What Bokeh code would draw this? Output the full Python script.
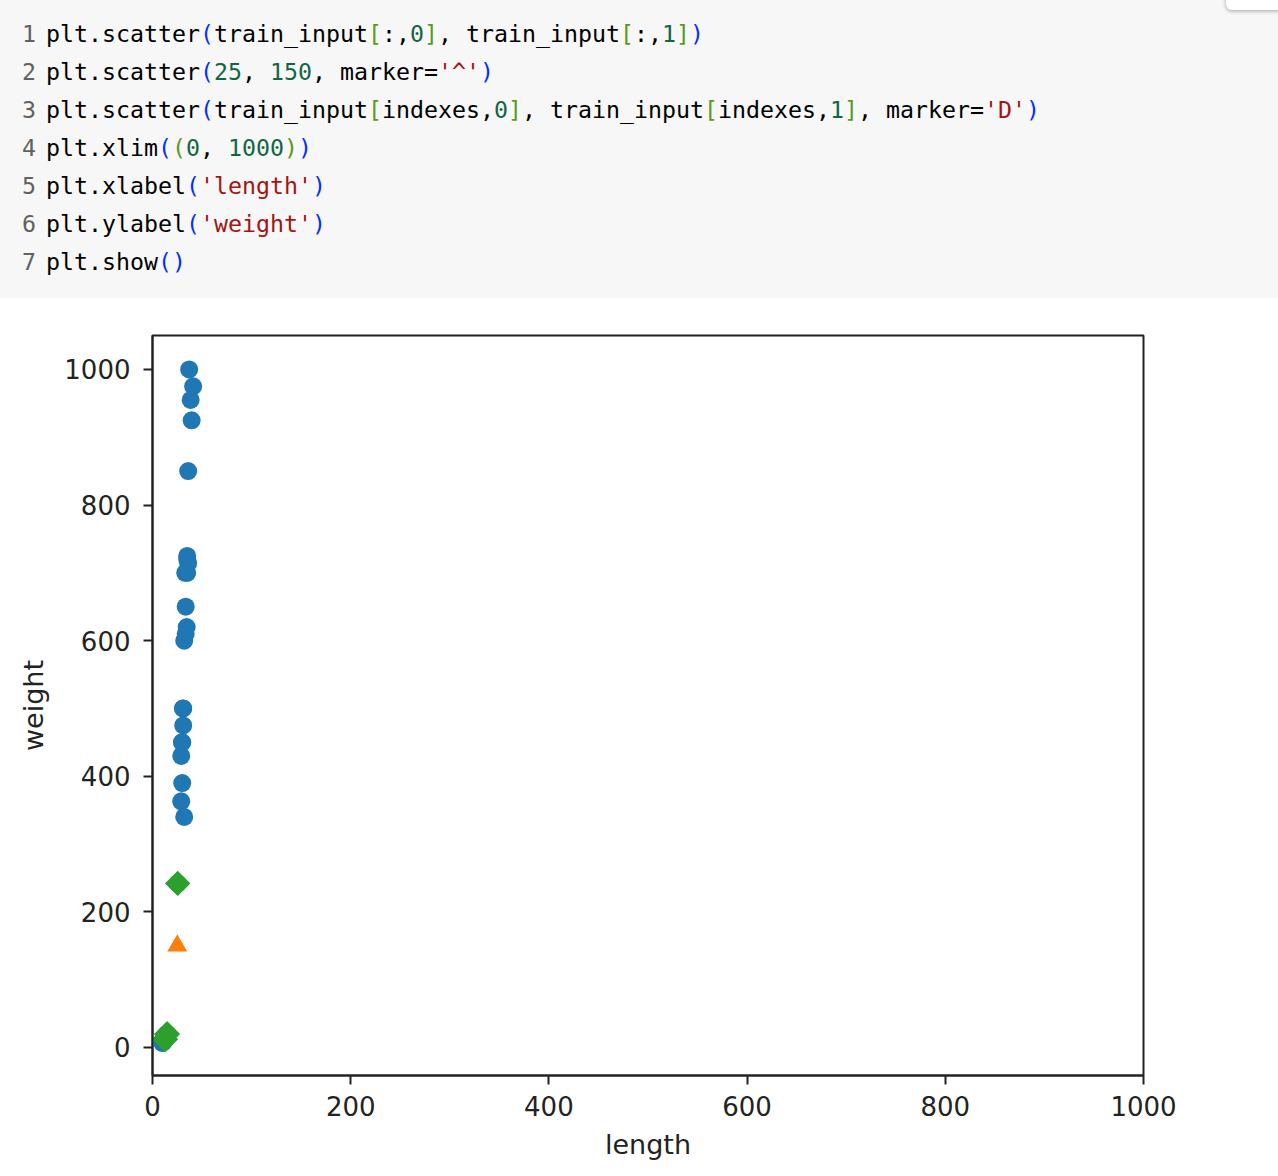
import numpy as np
from bokeh.plotting import figure
from bokeh.models import Range1d, FixedTicker, Div
from bokeh.layouts import column
from bokeh.embed import file_html
from bokeh.resources import INLINE

# ---------------- data ----------------
train_length = [37.0, 41.0, 38.5, 39.5, 36.0, 35.0, 35.0, 36.0, 35.0, 33.0,
                33.5, 34.5, 33.5, 32.0, 31.0, 30.7, 31.0, 30.0, 29.7, 29.0,
                30.0, 29.0, 32.0, 25.4,
                15.0, 14.3, 13.0, 12.2, 11.3, 9.8, 10.5]
train_weight = [1000, 975, 955, 925, 850, 725, 720, 714, 700, 700,
                650, 620, 610, 600, 500, 500, 475, 450, 450, 430,
                390, 363, 340, 242,
                19.9, 19.7, 12.2, 12.2, 8.7, 6.7, 7.5]
new_length = [25]
new_weight = [150]
neighbor_length = [25.4, 15.0, 14.3, 13.0, 12.2]
neighbor_weight = [242, 19.9, 19.7, 12.2, 12.2]

x_ticks = [0, 200, 400, 600, 800, 1000]
y_ticks = [0, 200, 400, 600, 800, 1000]
x_label = "length"
y_label = "weight"

code_tokens = [
    [("plt.scatter", "k"), ("(", "b1"), ("train_input", "k"), ("[", "b2"), (":,", "k"), ("0", "n"), ("]", "b2"),
     (", ", "k"), ("train_input", "k"), ("[", "b2"), (":,", "k"), ("1", "n"), ("]", "b2"), (")", "b1")],
    [("plt.scatter", "k"), ("(", "b1"), ("25", "n"), (", ", "k"), ("150", "n"), (", marker=", "k"), ("'^'", "s"), (")", "b1")],
    [("plt.scatter", "k"), ("(", "b1"), ("train_input", "k"), ("[", "b2"), ("indexes,", "k"), ("0", "n"), ("]", "b2"),
     (", ", "k"), ("train_input", "k"), ("[", "b2"), ("indexes,", "k"), ("1", "n"), ("]", "b2"),
     (", marker=", "k"), ("'D'", "s"), (")", "b1")],
    [("plt.xlim", "k"), ("(", "b1"), ("(", "b2"), ("0", "n"), (", ", "k"), ("1000", "n"), (")", "b2"), (")", "b1")],
    [("plt.xlabel", "k"), ("(", "b1"), ("'length'", "s"), (")", "b1")],
    [("plt.ylabel", "k"), ("(", "b1"), ("'weight'", "s"), (")", "b1")],
    [("plt.show", "k"), ("(", "b1"), (")", "b1")],
]
token_colors = {"k": "#000000", "b1": "#0431fa", "b2": "#5a9a22", "n": "#116644", "s": "#a31515"}

# ---------------- code cell (HTML) ----------------
PAGE_W = 1278
code_h = 298


def esc(s):
    return s.replace("&", "&amp;").replace("<", "&lt;").replace(">", "&gt;")


line_html = []
for i, line in enumerate(code_tokens):
    spans = "".join('<span style="color:%s">%s</span>' % (token_colors[k], esc(t)) for t, k in line)
    line_html.append('<div><span style="display:inline-block;width:24px;color:#616161">%d</span>%s</div>'
                     % (i + 1, spans))

code_html = (
    '<div style="position:relative;width:%dpx;height:%dpx;background:#f7f7f7;overflow:hidden;">'
    '<div style="position:absolute;left:1226px;top:-12px;width:70px;height:22px;background:#ffffff;'
    'border-radius:6px;box-shadow:0 1px 4px rgba(0,0,0,0.35);"></div>'
    '<div style="position:absolute;left:22px;top:14.5px;font-family:\'DejaVu Sans Mono\',monospace;'
    'font-size:23.25px;line-height:38px;white-space:pre;color:#000;">%s</div>'
    '</div>' % (PAGE_W, code_h, "".join(line_html))
)
code_div = Div(text=code_html, width=PAGE_W, height=code_h, margin=(0, 0, 0, 0))

# ---------------- chart ----------------
ink = "#222222"
p = figure(frame_width=991, frame_height=740,
           x_range=Range1d(0, 1000), y_range=Range1d(-41.3, 1050),
           min_border_left=152, min_border_right=135, min_border_top=37, min_border_bottom=98,
           toolbar_location=None, output_backend="svg",
           background_fill_color="white", border_fill_color="white")
p.grid.visible = False
p.outline_line_color = ink
p.outline_line_width = 2

for ax, ticks in ((p.xaxis[0], x_ticks), (p.yaxis[0], y_ticks)):
    ax.ticker = FixedTicker(ticks=ticks)
    ax.axis_line_color = ink
    ax.axis_line_width = 2
    ax.major_tick_line_color = ink
    ax.major_tick_line_width = 2
    ax.major_tick_out = 9
    ax.major_tick_in = 0
    ax.minor_tick_line_color = None
    ax.major_label_text_font = "DejaVu Sans"
    ax.major_label_text_font_size = "26px"
    ax.major_label_text_color = ink
    ax.axis_label_text_font = "DejaVu Sans"
    ax.axis_label_text_font_size = "27px"
    ax.axis_label_text_font_style = "normal"
    ax.axis_label_text_color = ink

p.xaxis.axis_label = x_label
p.yaxis.axis_label = y_label
p.xaxis.major_label_standoff = 11
p.yaxis.major_label_standoff = 13
p.xaxis.axis_label_standoff = 10
p.yaxis.axis_label_standoff = 12

p.scatter(train_length, train_weight, marker="circle", size=18,
          fill_color="#1f77b4", line_color=None)
p.scatter(new_length, new_weight, marker="triangle", size=20,
          fill_color="#ff7f0e", line_color=None)
p.scatter(neighbor_length, neighbor_weight, marker="square", angle=np.pi / 4, size=18,
          fill_color="#2ca02c", line_color=None)

layout = column(code_div, p, spacing=0)
open("out.html", "w").write(file_html(layout, INLINE))
